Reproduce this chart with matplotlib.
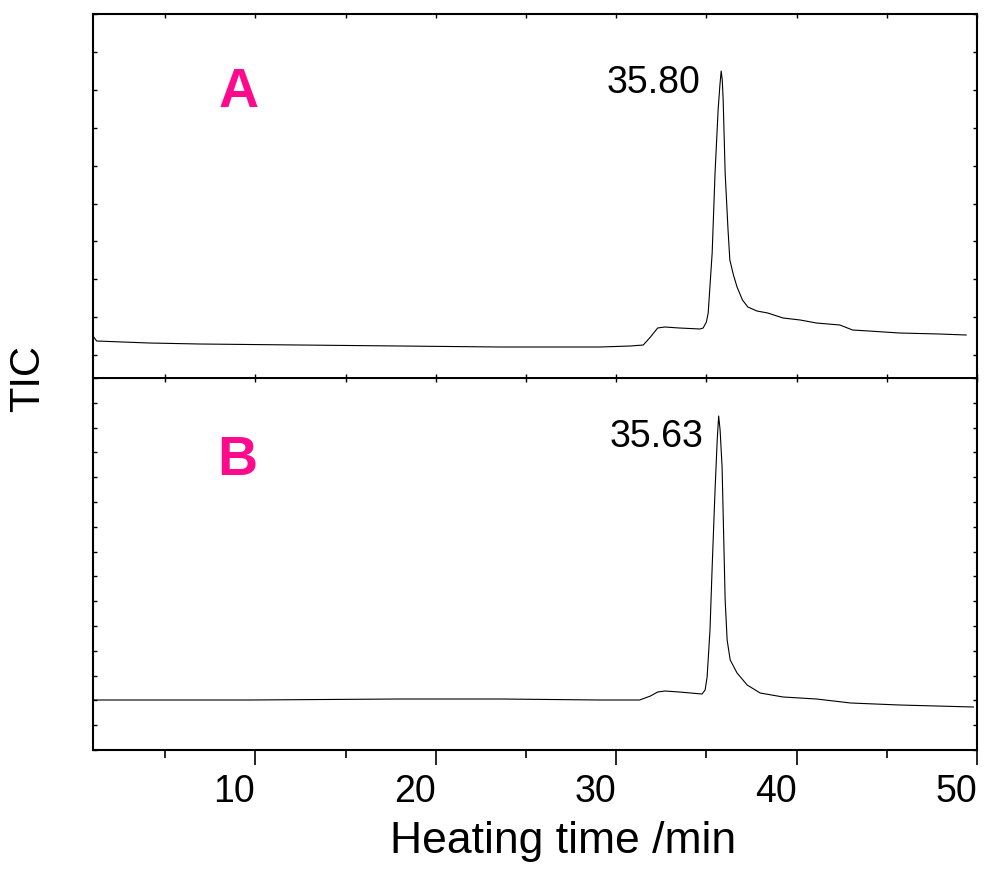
#!/usr/bin/env python3
"""
Two stacked TIC traces (A and B) against heating time.
"""

import matplotlib
matplotlib.use('Agg')
import matplotlib.pyplot as plt
import numpy as np

# ---- data (TIC in arbitrary units) ----
time_a = [1.0, 1.2, 4.1, 6.9, 12.4, 18.0, 23.5, 29.1, 30.8, 31.5, 31.9,
          32.3, 32.7, 33.5, 34.65, 34.82, 35.0, 35.1, 35.32, 35.48, 35.65,
          35.75, 35.82, 35.88, 35.93, 36.04, 36.2, 36.3, 36.5, 36.7, 37.0,
          37.3, 37.8, 38.4, 39.25, 40.2, 41.1, 42.4, 43.1, 44.0, 45.7,
          47.9, 49.4]
tic_a = [42, 37, 35, 34, 33, 32, 31, 31, 32, 33, 41,
         50, 51, 50, 49, 50, 56, 65, 125, 205, 268,
         293, 307, 298, 278, 205, 148, 118, 103, 91, 78,
         71, 67, 65, 60, 58, 55, 53, 48, 47, 45,
         44, 43]

time_b = [1.0, 9.7, 18.0, 23.6, 29.1, 31.3, 31.9, 32.3, 32.7, 33.5, 34.76,
          34.93, 35.04, 35.2, 35.32, 35.48, 35.6, 35.68, 35.76, 35.87,
          36.04, 36.15, 36.32, 36.7, 37.26, 37.98, 39.25, 41.1, 43.0,
          45.7, 49.8]
tic_b = [50, 50, 51, 51, 50, 50, 54, 58, 59, 58, 56,
         60, 73, 120, 183, 260, 310, 334, 320, 283,
         150, 110, 90, 77, 65, 57, 53, 51, 47,
         45, 43]

peak_labels = ['35.80', '35.63']
panel_labels = ['A', 'B']

plt.rcParams['font.family'] = ['Liberation Sans', 'DejaVu Sans']

W, H = 984, 874
fig = plt.figure(figsize=(W / 100, H / 100), dpi=100)

left = 93 / W
width = (977 - 93) / W
ax_a = fig.add_axes([left, (H - 378) / H, width, 364 / H])
ax_b = fig.add_axes([left, (H - 750) / H, width, 372 / H])

pink = '#ff0a8c'

for ax in (ax_a, ax_b):
    for s in ax.spines.values():
        s.set_linewidth(1.5)
    ax.set_xlim(1, 50)
    ax.set_xticks([10, 20, 30, 40, 50])
    ax.set_xticks(np.arange(5, 50, 10), minor=True)
    ax.tick_params(axis='y', which='both', left=True, right=True,
                   direction='in', length=3, width=1, labelleft=False)

# upper panel
ax_a.plot(time_a, tic_a, color='black', lw=0.8)
ax_a.set_ylim(0, 364)
ax_a.set_yticks(364 - 37.9 * np.arange(10))
ax_a.tick_params(axis='x', which='both', top=True, bottom=True,
                 direction='in', length=3, width=1, labelbottom=False)
ax_a.spines['bottom'].set_linewidth(1.3)
ax_a.text(34.65, 285, peak_labels[0], ha='right', va='baseline', fontsize=27)
ax_a.text(9.06, 271, panel_labels[0], ha='center', va='baseline',
          fontsize=40, fontweight='bold', color=pink)

# lower panel
ax_b.plot(time_b, tic_b, color='black', lw=0.8)
ax_b.set_ylim(0, 372)
ax_b.set_yticks(np.arange(0, 373, 24.8))
ax_b.tick_params(axis='x', which='major', direction='out', length=11,
                 width=1.2, labelsize=27, pad=6)
ax_b.tick_params(axis='x', which='minor', direction='out', length=6,
                 width=1.2)
# tick labels sit to the left of their tick, as in the original
for lbl in ax_b.get_xticklabels():
    lbl.set_horizontalalignment('right')
ax_b.spines['top'].set_linewidth(1.3)
top = ax_b.secondary_xaxis('top')
top.set_xticks([10, 20, 30, 40, 50], labels=[])
top.set_xticks(np.arange(5, 50, 10), minor=True)
top.tick_params(axis='x', which='both', direction='in', length=3, width=1)
ax_b.text(34.82, 303, peak_labels[1], ha='right', va='baseline', fontsize=27)
ax_b.text(9.0, 275, panel_labels[1], ha='center', va='baseline',
          fontsize=40, fontweight='bold', color=pink)

fig.text(563 / W, (H - 853) / H, 'Heating time /min', ha='center',
         va='baseline', fontsize=32)
fig.text(28 / W, (H - 378) / H, 'TIC', rotation=90, ha='center',
         va='center', fontsize=30)

fig.savefig('out.png', dpi=100)
